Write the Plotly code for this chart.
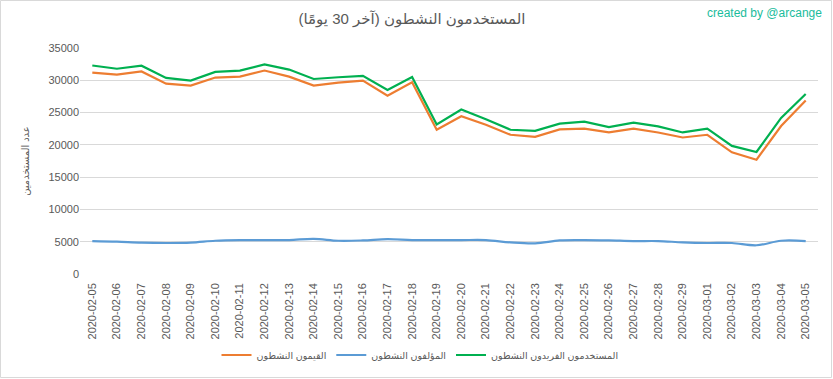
import plotly.graph_objects as go

dates = ["2020-02-05", "2020-02-06", "2020-02-07", "2020-02-08", "2020-02-09", "2020-02-10",
         "2020-02-11", "2020-02-12", "2020-02-13", "2020-02-14", "2020-02-15", "2020-02-16",
         "2020-02-17", "2020-02-18", "2020-02-19", "2020-02-20", "2020-02-21", "2020-02-22",
         "2020-02-23", "2020-02-24", "2020-02-25", "2020-02-26", "2020-02-27", "2020-02-28",
         "2020-02-29", "2020-03-01", "2020-03-02", "2020-03-03", "2020-03-04", "2020-03-05"]

curators = [31200, 30890, 31360, 29480, 29170, 30420, 30570, 31510, 30570, 29170,
            29640, 29950, 27600, 29690, 22330, 24430, 23120, 21560, 21240, 22390,
            22500, 21920, 22500, 21920, 21140, 21560, 18840, 17700, 22910, 26880]

authors = [5100, 5000, 4850, 4800, 4850, 5150, 5250, 5250, 5250, 5450,
           5150, 5200, 5400, 5250, 5250, 5250, 5250, 4900, 4750, 5200,
           5250, 5200, 5100, 5100, 4900, 4800, 4800, 4450, 5150, 5100]

unique_users = [32295, 31790, 32260, 30365, 29950, 31300, 31510, 32450, 31660, 30200,
                30470, 30680, 28490, 30520, 23160, 25470, 23960, 22340, 22180, 23280,
                23590, 22760, 23430, 22860, 21920, 22500, 19840, 18900, 24170, 27870]

y_ticks = [0, 5000, 10000, 15000, 20000, 25000, 30000, 35000]
y_tick_labels = [str(v) for v in y_ticks]

names = ["القيمون النشطون", "المؤلفون النشطون", "المستخدمون الفريدون النشطون"]
title = "المستخدمون النشطون (آخر 30 يومًا)"
y_title = "عدد المستخدمين"
credit = "created by @arcange"

FONT = "Liberation Sans, DejaVu Sans, sans-serif"
GRAY = "#595959"

fig = go.Figure()
fig.add_trace(go.Scatter(x=dates, y=curators, name=names[0], mode="lines",
                         line=dict(color="#ED7D31", width=2.2)))
fig.add_trace(go.Scatter(x=dates, y=authors, name=names[1], mode="lines",
                         line=dict(color="#5B9BD5", width=2.2, shape="spline")))
fig.add_trace(go.Scatter(x=dates, y=unique_users, name=names[2], mode="lines",
                         line=dict(color="#00B050", width=2.2)))

W, H = 833, 379
L, R, T, B = 80, 15, 48, 105
pw, ph = W - L - R, H - T - B

fig.update_layout(
    width=W, height=H,
    margin=dict(l=L, r=R, t=T, b=B, autoexpand=False),
    paper_bgcolor="white", plot_bgcolor="white",
    font=dict(family=FONT, color=GRAY, size=11),
    title=dict(text=title, x=(412 - L) / pw, xref="paper", xanchor="center",
               y=1 - 19 / H, yref="container", yanchor="middle",
               font=dict(size=15, color=GRAY, family=FONT)),
    showlegend=True,
    legend=dict(orientation="h", x=(420 - L) / pw, xanchor="center", y=-(355 - T - ph) / ph,
                yanchor="middle", traceorder="normal", itemwidth=30,
                font=dict(size=9.5, color=GRAY, family=FONT)),
    xaxis=dict(type="category", range=[-0.5, len(dates) - 0.5], tickangle=-90,
               showgrid=False, showline=False, ticks="", ticklabelstandoff=6,
               tickfont=dict(size=11, color=GRAY), zeroline=False),
    yaxis=dict(range=[0, 35000], tickvals=y_ticks, ticktext=y_tick_labels,
               showgrid=True, gridcolor="#D9D9D9",
               gridwidth=1, zeroline=False, showline=False, ticks="",
               tickfont=dict(size=11, color=GRAY),
               title=dict(text=y_title, font=dict(size=10, color=GRAY), standoff=16)),
    annotations=[dict(text=credit, xref="paper", yref="paper",
                      x=(W - 9 - L) / pw, y=1 + (T - 13) / ph,
                      xanchor="right", yanchor="middle", showarrow=False,
                      font=dict(size=12, color="#1ABC9C", family=FONT))],
    shapes=[dict(type="rect", xref="paper", yref="paper",
                 x0=-(L - 0.5) / pw, x1=1 + (R - 1.5) / pw,
                 y0=-(B - 1.5) / ph, y1=1 + (T - 0.5) / ph,
                 line=dict(color="#D9D9D9", width=1), layer="below")],
)

fig.write_html("out.html", config={"displayModeBar": False},
               post_script="document.body.style.margin='0';")
